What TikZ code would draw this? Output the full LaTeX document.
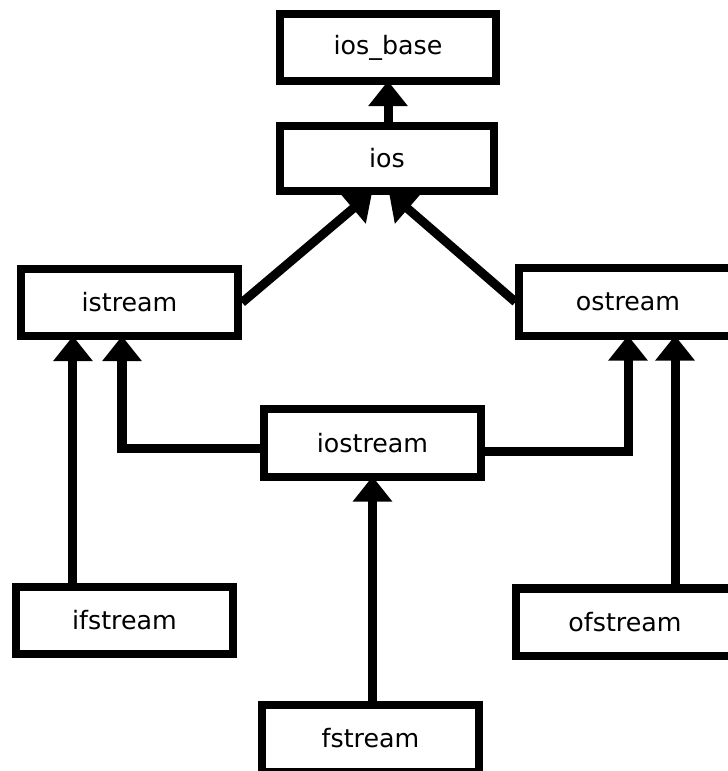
\documentclass[tikz,border=0pt]{standalone}
\usepackage{fontspec}
\setmainfont{DejaVu Sans}
\usetikzlibrary{arrows.meta,calc}

\begin{document}
\begin{tikzpicture}[x=0.025cm,y=-0.025cm,font=\fontsize{18}{21}\selectfont]
    \tikzstyle{cls}=[draw,fill=white,line width=0.2cm,minimum width=5.425cm,minimum height=1.675cm,inner sep=0pt]
    \tikzstyle{inh}=[line width=0.225cm,shorten >=-0.1cm,-{Triangle[width=0.95cm,length=0.625cm]}]
    \path[use as bounding box,clip] (0,0) rectangle (728,771);
    \node[cls,minimum width=5.4cm]                      (iosbase)  at (388,47.5)  {ios\_base};
    \node[cls,minimum width=5.35cm,minimum height=1.625cm] (ios)   at (387,158.5) {ios};
    \node[cls]                                          (istream)  at (129.5,302.5) {istream};
    \node[cls]                                          (ostream)  at (628,302)   {ostream};
    \node[cls]                                          (iostream) at (372.5,443) {iostream};
    \node[cls]                                          (ifstream) at (124.5,620.5) {ifstream};
    \node[cls]                                          (ofstream) at (625,622)   {ofstream};
    \node[cls]                                          (fstream)  at (370.5,738) {fstream};
    \coordinate (ii) at ([xshift=-1.4125cm]istream.south);
    \coordinate (oo) at ([xshift=1.175cm]ostream.south);
    % inheritance arrows
    \draw[inh] (iosbase.south |- ios.north) -- (iosbase.south);
    \draw[inh] (istream.east) -- ($(ios.south)+(-18,0)$);
    \draw[inh] (ostream.west) -- ($(ios.south)+(5,0)$);
    \draw[inh] (ifstream.north -| ii) -- (ii);
    \draw[inh] ([yshift=-0.125cm]iostream.west) -| ([xshift=-0.1875cm]istream.south);
    \draw[inh] ([yshift=-0.2cm]iostream.east) -| (ostream.south);
    \draw[inh] (ofstream.north -| oo) -- (oo);
    \draw[inh] (fstream.north -| iostream.south) -- (iostream.south);
\end{tikzpicture}
\end{document}
